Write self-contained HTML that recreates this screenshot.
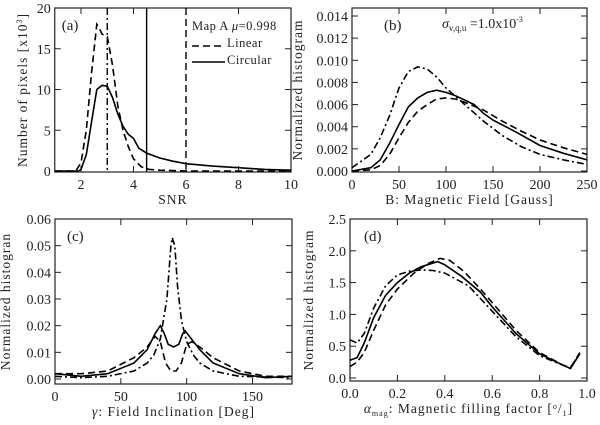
<!DOCTYPE html>
<html><head><meta charset="utf-8"><style>
body{margin:0;background:#fff;}
svg{display:block;font-family:"Liberation Serif",serif;}
text{fill:#222;}
</style></head><body>
<svg id="fig" width="600" height="425" viewBox="0 0 600 425"></svg>
<script>
// ---- Panel (a) data ----
const aLinX=[1,1.8,2.0,2.2,2.4,2.6,2.7,2.8,3.0,3.2,3.4,3.6,3.8,4.0,4.3,4.6,5,6,10];
const aLinY=[0,0,1,5,12,18,17.5,16.8,16.5,13,8,5,3,1.5,0.5,0.2,0.1,0,0];
const aCirX=[1,1.9,2.0,2.2,2.4,2.6,2.8,3.0,3.2,3.4,3.6,3.8,4.0,4.2,4.5,5,5.5,6,7,8,9,10];
const aCirY=[0,0,0.2,2,6,10,10.5,10.4,9,7,5.5,4.5,4,2.8,2.2,1.6,1.2,0.9,0.6,0.4,0.2,0.1];
const aVlines=[3,4.5,6];
const aXticks=[2,4,6,8,10];
const aYticks=[0,5,10,15,20];
// ---- Panel (b) data ----
const bDdX=[0,20,30,40,50,60,70,80,90,100,120,140,160,180,200,225,250];
const bDdY=[0.0003,0.0015,0.003,0.005,0.0075,0.009,0.0094,0.0092,0.0085,0.0075,0.006,0.0045,0.0032,0.0022,0.0015,0.001,0.0006];
const bSoX=[0,20,30,40,50,60,70,80,90,100,110,120,130,140,150,175,200,225,250];
const bSoY=[0,0.0003,0.001,0.0025,0.0042,0.0058,0.0066,0.0071,0.0073,0.0071,0.0068,0.0064,0.006,0.0052,0.0046,0.0035,0.0023,0.0016,0.001];
const bDaX=[0,20,30,40,50,60,70,80,90,100,110,120,140,160,180,200,225,250];
const bDaY=[0,0.0001,0.0005,0.0015,0.003,0.0044,0.0054,0.006,0.0065,0.0066,0.0065,0.0062,0.0055,0.0045,0.0036,0.0028,0.0021,0.0015];
const bXticks=[0,50,100,150,200,250];
const bYticks=[0,0.002,0.004,0.006,0.008,0.010,0.012,0.014];
// ---- Panel (c) data ----
const cDdX=[0,20,40,60,70,75,80,85,88,89,91,93,96,100,105,110,120,140,180];
const cDdY=[0.001,0.0005,0.001,0.003,0.006,0.009,0.015,0.03,0.05,0.053,0.05,0.035,0.022,0.014,0.009,0.006,0.003,0.001,0.0005];
const cSoX=[0,20,40,60,70,76,80,83,86,90,94,97,99,102,110,120,140,160,180];
const cSoY=[0.002,0.001,0.002,0.006,0.011,0.017,0.020,0.017,0.013,0.012,0.013,0.017,0.018,0.016,0.011,0.006,0.002,0.0005,0.001];
const cDaX=[0,10,20,40,60,70,76,80,84,88,92,96,100,104,110,120,140,160,180];
const cDaY=[0.002,0.002,0.002,0.003,0.008,0.012,0.016,0.014,0.006,0.003,0.003,0.006,0.013,0.014,0.012,0.008,0.003,0.001,0.001];
const cXticks=[0,50,100,150];
const cYticks=[0,0.01,0.02,0.03,0.04,0.05,0.06];
// ---- Panel (d) data ----
const dDdX=[0,0.03,0.06,0.1,0.15,0.2,0.25,0.3,0.35,0.4,0.5,0.6,0.7,0.8,0.9,0.93,0.97];
const dDdY=[0.6,0.55,0.7,1.1,1.45,1.62,1.68,1.7,1.69,1.65,1.45,1.05,0.65,0.35,0.2,0.15,0.4];
const dSoX=[0,0.03,0.06,0.1,0.15,0.2,0.25,0.3,0.37,0.4,0.47,0.55,0.6,0.7,0.8,0.9,0.93,0.97];
const dSoY=[0.28,0.32,0.55,0.95,1.3,1.5,1.65,1.75,1.83,1.78,1.6,1.35,1.12,0.7,0.38,0.2,0.15,0.38];
const dDaX=[0,0.03,0.06,0.1,0.15,0.2,0.27,0.33,0.38,0.42,0.48,0.55,0.62,0.7,0.8,0.9,0.93,0.97];
const dDaY=[0.18,0.25,0.4,0.75,1.15,1.4,1.65,1.8,1.88,1.85,1.68,1.4,1.1,0.75,0.4,0.2,0.16,0.4];
const dXticks=[0,0.2,0.4,0.6,0.8,1.0];
const dYticks=[0,0.5,1.0,1.5,2.0,2.5];

const NS="http://www.w3.org/2000/svg";
const svg=document.getElementById('fig');
function el(tag,attrs,parent){const e=document.createElementNS(NS,tag);for(const k in attrs)e.setAttribute(k,attrs[k]);(parent||svg).appendChild(e);return e;}
const DASH={solid:null,dashed:"7,4",dashdot:"7,3,2,3"};

function panel(o){
  const g=el('g',{});
  
  
  const sx=v=>o.x0+(v-o.xmin)/(o.xmax-o.xmin)*(o.x1-o.x0);
  const sy=v=>o.y0-(v-o.ymin)/(o.ymax-o.ymin)*(o.y0-o.y1);
  const fr=el('rect',{x:o.x0,y:o.y1-o.padTop,width:o.x1-o.x0,height:o.y0-o.y1+o.padTop+o.padBot,fill:'none',stroke:'#222','stroke-width':1.2},g);
  
  
  const bot=o.y0+o.padBot, top=o.y1-o.padTop;
  o.xt.forEach(v=>{
    const x=sx(v);
    el('line',{x1:x,x2:x,y1:bot,y2:bot-6,stroke:'#222'},g);
    el('line',{x1:x,x2:x,y1:top,y2:top+6,stroke:'#222'},g);
    const t=el('text',{x:x,y:bot+17,'font-size':14,'text-anchor':'middle'},g);
    t.textContent=o.xfmt(v);
    
    
  });
  o.yt.forEach(v=>{
    const y=sy(v);
    el('line',{x1:o.x0,x2:o.x0+6,y1:y,y2:y,stroke:'#222'},g);
    el('line',{x1:o.x1,x2:o.x1-6,y1:y,y2:y,stroke:'#222'},g);
    const t=el('text',{x:o.x0-4,y:y+5,'font-size':14,'text-anchor':'end'},g);
    t.textContent=o.yfmt(v);
    
    
  });
  o.series.forEach(s=>{
    const d=s.x.map((v,i)=>(i?'L':'M')+sx(v).toFixed(1)+','+sy(s.y[i]).toFixed(1)).join('');
    const a={d:d,fill:'none',stroke:'#000','stroke-width':1.6};
    if(DASH[s.style])a['stroke-dasharray']=DASH[s.style];
    const p=el('path',a,g);
    
    
  });
  if(o.vlines)o.vlines.forEach((v,i)=>{
    const a={x1:sx(v),x2:sx(v),y1:top,y2:bot,stroke:'#000','stroke-width':1.4};
    const st=o.vstyles[i]; if(DASH[st])a['stroke-dasharray']=DASH[st];
    const l=el('line',a,g);
    
    
  });
  const xl=el('text',{x:(o.x0+o.x1)/2,y:bot+32,'font-size':13.5,'letter-spacing':1,'text-anchor':'middle'},g);
  xl.innerHTML=o.xlabel;
  
  
  const yl=el('text',{x:0,y:0,'font-size':13.5,'letter-spacing':1,'text-anchor':'middle',transform:`translate(${o.ylx},${(top+bot)/2}) rotate(-90)`},g);
  yl.innerHTML=o.ylabel;
  
  
  const pl=el('text',{x:o.x0+o.plx,y:top+22,'font-size':15},g);
  pl.textContent=o.tag;
  
  
  return {g,sx,sy};
}

panel({name:'panel-a-snr',x0:54.75,x1:291,y0:171,y1:8,padTop:0,padBot:1,xmin:1,xmax:10,ymin:0,ymax:20,
  xt:aXticks,yt:aYticks,xfmt:v=>String(v),yfmt:v=>String(v),
  series:[{name:'linear-snr-curve',x:aLinX,y:aLinY,style:'dashed'},{name:'circular-snr-curve',x:aCirX,y:aCirY,style:'solid'}],
  vlines:aVlines,vstyles:['dashdot','solid','dashed'],
  xlabel:'SNR',ylabel:'Number of pixels [x10<tspan font-size="8" dy="-5">3</tspan><tspan dy="5">]</tspan>',ylx:27,tag:'(a)',plx:7});
(function(){
  const g=el('g',{});
  
  
  const t=el('text',{x:192,y:30,'font-size':12.5,'letter-spacing':0.5},g);t.innerHTML='Map A <tspan font-style="italic">μ</tspan>=0.998';
  el('line',{x1:192,x2:225,y1:46,y2:46,stroke:'#000','stroke-width':1.6,'stroke-dasharray':'7,4'},g);
  const t2=el('text',{x:227,y:47,'font-size':12.5,'letter-spacing':0.5},g);t2.textContent='Linear';
  el('line',{x1:192,x2:225,y1:62,y2:62,stroke:'#000','stroke-width':1.6},g);
  const t3=el('text',{x:227,y:64,'font-size':12.5,'letter-spacing':0.5},g);t3.textContent='Circular';
})();

panel({name:'panel-b-field',x0:352,x1:587,y0:171,y1:16,padTop:8,padBot:1,xmin:0,xmax:250,ymin:0,ymax:0.014,
  xt:bXticks,yt:bYticks,xfmt:v=>String(v),yfmt:v=>v.toFixed(3),
  series:[{name:'dashdot-field-curve',x:bDdX,y:bDdY,style:'dashdot'},{name:'solid-field-curve',x:bSoX,y:bSoY,style:'solid'},{name:'dashed-field-curve',x:bDaX,y:bDaY,style:'dashed'}],
  xlabel:'B: Magnetic Field [Gauss]',ylabel:'Normalized histogram',ylx:302,tag:'(b)',plx:32});
(function(){const t=el('text',{x:442,y:28,'font-size':14,fill:'#666'});t.innerHTML='<tspan font-style="italic">σ</tspan><tspan font-size="9" dy="3">v,q,u</tspan><tspan dy="-3"> =1.0x10</tspan><tspan font-size="8" dy="-6">-3</tspan>';
})();

panel({name:'panel-c-inclination',x0:55,x1:292,y0:379,y1:219,padTop:0,padBot:5,xmin:0,xmax:180,ymin:0,ymax:0.06,
  xt:cXticks,yt:cYticks,xfmt:v=>String(v),yfmt:v=>v.toFixed(2),
  series:[{name:'dashdot-inclination-curve',x:cDdX,y:cDdY,style:'dashdot'},{name:'solid-inclination-curve',x:cSoX,y:cSoY,style:'solid'},{name:'dashed-inclination-curve',x:cDaX,y:cDaY,style:'dashed'}],
  xlabel:'<tspan font-style="italic">γ</tspan>: Field Inclination [Deg]',ylabel:'Normalized histogran',ylx:10,tag:'(c)',plx:12});

panel({name:'panel-d-filling',x0:350,x1:587,y0:378,y1:219,padTop:0,padBot:3,xmin:0,xmax:1,ymin:0,ymax:2.5,
  xt:dXticks,yt:dYticks,xfmt:v=>v.toFixed(1),yfmt:v=>v.toFixed(1),
  series:[{name:'dashdot-filling-curve',x:dDdX,y:dDdY,style:'dashdot'},{name:'solid-filling-curve',x:dSoX,y:dSoY,style:'solid'},{name:'dashed-filling-curve',x:dDaX,y:dDaY,style:'dashed'}],
  xlabel:'<tspan font-style="italic">α</tspan><tspan font-size="8" dy="3">mag</tspan><tspan dy="-3">: Magnetic filling factor [</tspan><tspan font-size="8" dy="-4">o</tspan><tspan dy="4">/</tspan><tspan font-size="8" dy="3">1</tspan><tspan dy="-3">]</tspan>',ylabel:'Normalized histogram',ylx:313,tag:'(d)',plx:14});
</script>
</body></html>
